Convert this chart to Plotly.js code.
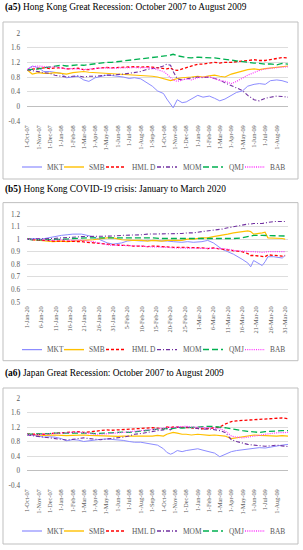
<!DOCTYPE html>
<html><head><meta charset="utf-8">
<script src="https://cdn.plot.ly/plotly-3.0.1.min.js"></script>
<style>
html,body{margin:0;padding:0;background:#fff;width:303px;height:550px;overflow:hidden}
.p{position:absolute;left:0;width:303px}
</style></head><body>
<div id="p1" class="p" style="top:0;height:180px"></div>
<div id="p2" class="p" style="top:180px;height:182px"></div>
<div id="p3" class="p" style="top:362px;height:188px"></div>
<script>
// ---------- DATA ----------
const seriesNames = ["MKT","SMB","HML D","MOM","QMJ","BAB"];

const datesGR = ["2007-10-01","2007-10-15","2007-11-01","2007-11-15","2007-12-01","2007-12-15",
 "2008-01-01","2008-01-15","2008-02-01","2008-02-15","2008-03-01","2008-03-15","2008-04-01","2008-04-15",
 "2008-05-01","2008-05-15","2008-06-01","2008-06-15","2008-07-01","2008-07-15","2008-08-01","2008-08-15",
 "2008-09-01","2008-09-15","2008-10-01","2008-10-10","2008-10-20","2008-10-27","2008-11-07","2008-11-20",
 "2008-12-01","2008-12-15","2009-01-01","2009-01-15","2009-02-01","2009-02-15","2009-03-01","2009-03-15",
 "2009-04-01","2009-04-15","2009-05-01","2009-05-15","2009-06-01","2009-06-15","2009-07-01","2009-07-15",
 "2009-08-01","2009-08-15","2009-08-31"];

const hkMKT = [1.0,1.1, 1.05,0.95, 0.95,0.92, 0.9,0.78, 0.8,0.82, 0.72,0.68, 0.78,0.82, 0.85,0.84, 0.82,0.8, 0.76,0.78, 0.75,0.65, 0.55,0.42, 0.35,0.2,0.05,-0.04, 0.18,0.1, 0.12,0.2, 0.3,0.25, 0.28,0.22, 0.15,0.2, 0.3,0.38, 0.42,0.55, 0.6,0.62, 0.6,0.7, 0.72,0.7,0.65];
const hkSMB = [1.0,0.88, 0.92,0.9, 0.9,0.92, 0.9,0.88, 0.92,0.93, 0.95,0.93, 0.92,0.9, 0.9,0.88, 0.88,0.87, 0.86,0.85, 0.84,0.83, 0.82,0.8, 0.76,0.74,0.7,0.72, 0.76,0.78, 0.78,0.8, 0.82,0.8, 0.83,0.85, 0.82,0.8, 0.88,0.92, 0.95,1.0, 1.02,1.0, 1.03,1.05, 1.06,1.08,1.1];
const hkHML = [1.0,1.02, 1.05,1.05, 1.03,1.05, 1.05,1.02, 1.03,1.04, 1.0,1.0, 1.03,1.05, 1.06,1.05, 1.06,1.05, 1.07,1.08, 1.07,1.08, 1.07,1.05, 1.03,1.02,1.05,1.0, 0.98,1.02, 1.05,1.08, 1.15,1.15, 1.18,1.2, 1.18,1.2, 1.2,1.22, 1.25,1.25, 1.27,1.25, 1.25,1.27, 1.3,1.33,1.32];
const hkMOM = [1.0,0.97, 0.95,0.92, 0.9,0.85, 0.82,0.8, 0.82,0.83, 0.8,0.82, 0.82,0.84, 0.85,0.85, 0.86,0.88, 0.9,0.92, 0.95,1.0, 1.02,1.05, 1.1,1.15,1.12,0.95, 0.75,0.72, 0.75,0.78, 0.8,0.78, 0.8,0.76, 0.72,0.64, 0.56,0.5, 0.43,0.3, 0.18,0.15, 0.22,0.25, 0.28,0.27,0.25];
const hkQMJ = [1.0,1.0, 1.02,1.05, 1.08,1.1, 1.12,1.1, 1.12,1.13, 1.12,1.14, 1.16,1.18, 1.2,1.2, 1.22,1.24, 1.25,1.26, 1.28,1.3, 1.32,1.34, 1.36,1.38,1.4,1.42, 1.38,1.35, 1.33,1.32, 1.34,1.33, 1.33,1.32, 1.3,1.28, 1.27,1.25, 1.22,1.2, 1.18,1.17, 1.15,1.16, 1.13,1.17,1.15];
const hkBAB = [1.0,1.08, 1.1,1.08, 1.07,1.08, 1.05,1.02, 1.03,1.02, 1.0,1.02, 1.03,1.05, 1.05,1.04, 1.05,1.06, 1.05,1.06, 1.05,1.06, 1.04,1.0, 0.95,0.88,0.78,0.72, 0.68,0.72, 0.75,0.72, 0.78,0.8, 0.8,0.76, 0.7,0.68, 0.62,0.68, 0.78,0.85, 0.92,0.98, 1.02,1.04, 1.05,1.07,1.08];

const jpMKT = [1.0,0.98, 0.95,0.92, 0.93,0.92, 0.88,0.82, 0.85,0.84, 0.8,0.82, 0.85,0.86, 0.87,0.86, 0.85,0.83, 0.8,0.78, 0.78,0.76, 0.72,0.7, 0.6,0.5,0.45,0.48, 0.55,0.52, 0.55,0.58, 0.6,0.56, 0.52,0.48, 0.38,0.45, 0.52,0.55, 0.57,0.6, 0.62,0.63, 0.62,0.65, 0.68,0.7,0.72];
const jpSMB = [1.0,1.0, 0.98,0.97, 0.98,0.98, 0.97,0.96, 0.97,0.98, 0.98,0.97, 0.96,0.97, 0.96,0.95, 0.94,0.95, 0.95,0.94, 0.93,0.94, 0.95,0.97, 0.95,1.0,1.03,1.05, 1.03,1.0, 1.0,0.98, 1.0,0.98, 0.97,0.98, 0.97,0.95, 0.88,0.9, 0.92,0.95, 0.98,0.97, 0.96,0.95, 0.95,0.96,0.95];
const jpHML = [1.0,1.0, 0.99,1.0, 1.02,1.03, 1.05,1.04, 1.06,1.07, 1.05,1.06, 1.08,1.1, 1.12,1.11, 1.12,1.13, 1.14,1.15, 1.16,1.17, 1.18,1.17, 1.15,1.2,1.18,1.2, 1.2,1.18, 1.19,1.18, 1.16,1.15, 1.16,1.17, 1.2,1.28, 1.35,1.37, 1.38,1.38, 1.4,1.41, 1.42,1.43, 1.44,1.45,1.43];
const jpMOM = [0.98,0.96, 0.95,0.93, 0.9,0.88, 0.86,0.84, 0.86,0.88, 0.9,0.88, 0.86,0.85, 0.87,0.88, 0.9,0.92, 0.95,1.0, 1.02,1.05, 1.08,1.1, 1.12,1.15,1.12,1.18, 1.2,1.18, 1.2,1.18, 1.15,1.14, 1.15,1.13, 1.1,1.05, 0.85,0.8, 0.75,0.72, 0.7,0.68, 0.67,0.68, 0.7,0.68,0.66];
const jpQMJ = [1.0,1.0, 1.0,1.01, 1.02,1.03, 1.03,1.04, 1.05,1.05, 1.04,1.03, 1.02,1.02, 1.03,1.04, 1.05,1.06, 1.05,1.07, 1.08,1.1, 1.12,1.14, 1.15,1.16,1.15,1.17, 1.18,1.17, 1.18,1.19, 1.2,1.21, 1.22,1.21, 1.2,1.18, 1.15,1.12, 1.1,1.08, 1.06,1.05, 1.07,1.08, 1.1,1.1,1.1];
const jpBAB = [1.0,0.98, 0.99,1.0, 1.01,1.02, 1.03,1.05, 1.05,1.06, 1.04,1.02, 1.0,1.0, 1.01,1.02, 1.03,1.05, 1.07,1.08, 1.1,1.12, 1.13,1.15, 1.16,1.18,1.2,1.18, 1.2,1.22, 1.22,1.2, 1.2,1.19, 1.18,1.17, 1.15,1.1, 0.95,0.92, 0.9,0.92, 0.95,0.98, 1.0,1.02, 1.04,1.05,1.05];

const datesCV = ["2020-01-01","2020-01-03","2020-01-06","2020-01-08","2020-01-10","2020-01-13","2020-01-15","2020-01-17",
 "2020-01-20","2020-01-22","2020-01-24","2020-01-29","2020-01-31",
 "2020-02-03","2020-02-05","2020-02-07","2020-02-10","2020-02-12","2020-02-14","2020-02-17","2020-02-19","2020-02-21",
 "2020-02-24","2020-02-26","2020-02-28",
 "2020-03-02","2020-03-04","2020-03-06","2020-03-09","2020-03-11","2020-03-13","2020-03-16","2020-03-18","2020-03-19",
 "2020-03-20","2020-03-23","2020-03-24","2020-03-25","2020-03-27","2020-03-30","2020-03-31"];
const cvMKT = [1.0,1.005,1.0,1.01,1.02,1.03,1.035,1.04,1.04,1.03,1.02,0.97,0.96,
 0.97,0.985,0.99,0.985,0.99,0.99,0.985,0.985,0.98,0.975,0.98,0.975,
 0.98,0.99,0.97,0.92,0.9,0.88,0.84,0.81,0.78,0.83,0.79,0.82,0.86,0.86,0.85,0.87];
const cvSMB = [1.0,0.995,0.99,0.985,0.98,0.985,0.98,0.985,0.99,0.99,0.995,1.01,1.01,
 0.995,0.99,0.99,0.99,0.985,0.99,0.985,0.99,0.99,0.99,1.0,1.0,
 1.01,1.01,1.02,1.03,1.04,1.05,1.06,1.065,1.06,1.04,1.05,1.055,1.01,1.01,1.005,1.0];
const cvHML = [1.0,0.995,0.99,0.99,0.985,0.985,0.985,0.98,0.98,0.975,0.97,0.96,0.955,
 0.95,0.95,0.945,0.945,0.94,0.945,0.94,0.94,0.935,0.935,0.935,0.93,
 0.93,0.925,0.93,0.92,0.915,0.905,0.9,0.885,0.87,0.87,0.86,0.86,0.875,0.87,0.865,0.87];
const cvMOM = [1.0,1.0,1.0,1.005,1.005,1.01,1.01,1.015,1.02,1.02,1.02,1.02,1.025,
 1.03,1.03,1.035,1.035,1.04,1.04,1.04,1.04,1.045,1.045,1.05,1.05,
 1.06,1.065,1.07,1.08,1.09,1.1,1.11,1.12,1.12,1.125,1.125,1.13,1.135,1.14,1.14,1.14];
const cvQMJ = [1.0,0.995,0.995,0.995,1.0,1.0,1.0,1.005,1.01,1.01,1.01,1.01,1.015,
 1.015,1.015,1.01,1.01,1.01,1.01,1.005,1.005,1.005,1.0,1.0,1.0,
 1.005,1.0,1.0,1.0,1.0,1.005,1.01,1.02,1.03,1.03,1.03,1.03,1.025,1.025,1.025,1.025];
const cvBAB = [1.0,0.995,0.995,0.99,0.99,0.995,0.99,0.99,0.99,0.985,0.98,0.955,0.95,
 0.95,0.95,0.945,0.945,0.94,0.94,0.935,0.935,0.93,0.93,0.93,0.93,
 0.93,0.93,0.93,0.925,0.92,0.91,0.905,0.9,0.9,0.9,0.895,0.9,0.9,0.9,0.9,0.9];

const grTickVals = ["2007-10-01","2007-11-01","2007-12-01","2008-01-01","2008-02-01","2008-03-01","2008-04-01","2008-05-01",
 "2008-06-01","2008-07-01","2008-08-01","2008-09-01","2008-10-01","2008-11-01","2008-12-01","2009-01-01","2009-02-01",
 "2009-03-01","2009-04-01","2009-05-01","2009-06-01","2009-07-01","2009-08-01"];
const grTickText = ["1-Oct-07","1-Nov-07","1-Dec-07","1-Jan-08","1-Feb-08","1-Mar-08","1-Apr-08","1-May-08","1-Jun-08",
 "1-Jul-08","1-Aug-08","1-Sep-08","1-Oct-08","1-Nov-08","1-Dec-08","1-Jan-09","1-Feb-09","1-Mar-09","1-Apr-09",
 "1-May-09","1-Jun-09","1-Jul-09","1-Aug-09"];
const cvTickVals = ["2020-01-01","2020-01-06","2020-01-11","2020-01-16","2020-01-21","2020-01-26","2020-01-31","2020-02-05",
 "2020-02-10","2020-02-15","2020-02-20","2020-02-25","2020-03-01","2020-03-06","2020-03-11","2020-03-16","2020-03-21",
 "2020-03-26","2020-03-31"];
const cvTickText = ["1-Jan-20","6-Jan-20","11-Jan-20","16-Jan-20","21-Jan-20","26-Jan-20","31-Jan-20","5-Feb-20",
 "10-Feb-20","15-Feb-20","20-Feb-20","25-Feb-20","1-Mar-20","6-Mar-20","11-Mar-20","16-Mar-20","21-Mar-20",
 "26-Mar-20","31-Mar-20"];
const grYTickVals = [-0.4,0,0.4,0.8,1.2,1.6,2];
const grYTickText = ["-0.4","0","0.4","0.8","1.2","1.6","2"];
const cvYTickVals = [0.5,0.6,0.7,0.8,0.9,1,1.1,1.2];
const cvYTickText = ["0.5","0.6","0.7","0.8","0.9","1","1.1","1.2"];

const titles = ["<b>(a5)</b> Hong Kong Great Recession: October 2007 to August 2009",
 "<b>(b5)</b> Hong Kong COVID-19 crisis: January to March 2020",
 "<b>(a6)</b> Japan Great Recession: October 2007 to August 2009"];

// ---------- STYLE ----------
const styles = {
 "MKT":  {color:"#8C8CFF", width:1.0, dash:"solid"},
 "SMB":  {color:"#FFC000", width:1.2, dash:"solid"},
 "HML D":{color:"#FF0000", width:1.3, dash:"3px,2px"},
 "MOM":  {color:"#7030A0", width:1.1, dash:"4px,2px,1px,2px"},
 "QMJ":  {color:"#00B050", width:1.3, dash:"6px,3px"},
 "BAB":  {color:"#FF33FF", width:1.2, dash:"1px,1.2px"}
};
const legSample = [[22,42],[64,84],[106,126],[157,177],[203,223],[245,265]];
const legTextX = [45,87,130,181,227,268];
const SERIF = "Liberation Serif, Times New Roman, serif";

function panel(id, H, g, title, dates, series, xr, xtv, xtt, yr, ytv, ytt, zero){
  const W = 303;
  const l = g.l, r = W - g.xr, t = g.pt, b = H - g.pb;
  const pw = W - l - r, ph = H - t - b;
  const px = x => (x - l) / pw, py = y => (H - b - y) / ph;
  const traces = seriesNames.map((n, i) => ({
    type:"scatter", mode:"lines", x:dates, y:series[i], name:n,
    line:{color:styles[n].color, width:styles[n].width, dash:styles[n].dash},
    showlegend:false, hoverinfo:"skip"
  }));
  const shapes = [{type:"rect", xref:"paper", yref:"paper", x0:px(3), x1:px(298), y0:py(g.bt), y1:py(g.bb),
    line:{color:"#BFBFBF", width:1}, fillcolor:"rgba(0,0,0,0)", layer:"below"}];
  const ann = [{xref:"paper", yref:"paper", x:px(3), y:py(g.ty), xanchor:"left", yanchor:"middle",
    text:title, showarrow:false, font:{family:SERIF, size:9.4, color:"#000"}}];
  seriesNames.forEach((n, i) => {
    shapes.push({type:"line", xref:"paper", yref:"paper", x0:px(legSample[i][0]), x1:px(legSample[i][1]),
      y0:py(g.ly), y1:py(g.ly), line:{color:styles[n].color, width:styles[n].width + 0.2, dash:styles[n].dash}});
    ann.push({xref:"paper", yref:"paper", x:px(legTextX[i]), y:py(g.ly), xanchor:"left", yanchor:"middle",
      text:n, showarrow:false, font:{family:SERIF, size:7.4, color:"#595959"}});
  });
  const layout = {
    width:W, height:H, margin:{l:l, r:r, t:t, b:b, pad:0},
    paper_bgcolor:"#fff", plot_bgcolor:"#fff", showlegend:false,
    xaxis:{type:"date", range:xr, tickvals:xtv, ticktext:xtt, tickangle:-90, showgrid:false, zeroline:false,
      showline:false, ticks:"", ticklabelstandoff:2, tickfont:{family:SERIF, size:6.3, color:"#595959"}, fixedrange:true},
    yaxis:{range:yr, tickvals:ytv, ticktext:ytt, showgrid:true, gridcolor:"#D9D9D9", gridwidth:0.9,
      zeroline:zero, zerolinecolor:"#BFBFBF", zerolinewidth:1.3, showline:false, ticks:"", ticklabelstandoff:6,
      tickfont:{family:SERIF, size:7.2, color:"#595959"}, fixedrange:true},
    shapes:shapes, annotations:ann
  };
  Plotly.newPlot(id, traces, layout, {staticPlot:true, displayModeBar:false});
}

panel("p1", 180, {l:27, xr:288, pt:33, pb:121, bt:22, bb:179, ty:8, ly:167}, titles[0], datesGR,
  [hkMKT,hkSMB,hkHML,hkMOM,hkQMJ,hkBAB], ["2007-10-01","2009-08-31"], grTickVals, grTickText,
  [-0.4,2], grYTickVals, grYTickText, true);
panel("p2", 182, {l:27, xr:288, pt:34.3, pb:121.7, bt:23, bb:180, ty:10, ly:169}, titles[1], datesCV,
  [cvMKT,cvSMB,cvHML,cvMOM,cvQMJ,cvBAB], ["2020-01-01","2020-04-01"], cvTickVals, cvTickText,
  [0.5,1.2], cvYTickVals, cvYTickText, false);
panel("p3", 188, {l:27, xr:288, pt:36, pb:123, bt:26, bb:182, ty:11, ly:169}, titles[2], datesGR,
  [jpMKT,jpSMB,jpHML,jpMOM,jpQMJ,jpBAB], ["2007-10-01","2009-08-31"], grTickVals, grTickText,
  [-0.4,2], grYTickVals, grYTickText, true);
</script>
</body></html>
